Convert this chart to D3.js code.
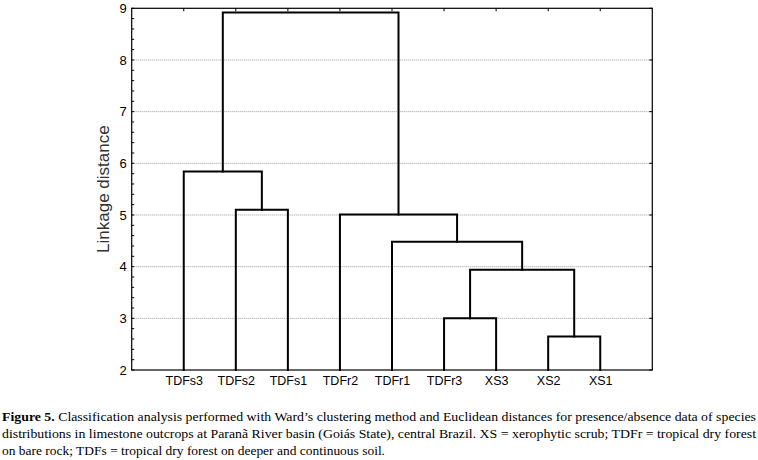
<!DOCTYPE html>
<html>
<head>
<meta charset="utf-8">
<script src="https://cdn.jsdelivr.net/npm/d3@7"></script>
<style>
  html, body { margin: 0; padding: 0; background: #fff; }
  svg { display: block; }
</style>
</head>
<body>
<svg id="chart" width="758" height="460"></svg>
<script>
// ---- data ----
const leaves = ["TDFs3", "TDFs2", "TDFs1", "TDFr2", "TDFr1", "TDFr3", "XS3", "XS2", "XS1"];
// merges produce nodes N1..N8 in order
const mergeA = ["TDFs2", "TDFr3", "XS2", "N2", "TDFr1", "TDFr2", "TDFs3", "N7"];
const mergeB = ["TDFs1", "XS3", "XS1", "N3", "N4", "N5", "N1", "N6"];
const mergeHeights = [5.10, 3.00, 2.65, 3.94, 4.48, 5.01, 5.84, 8.92];
const yTicks = [2, 3, 4, 5, 6, 7, 8, 9];
const yLabel = "Linkage distance";
const captionBold = "Figure 5.";
const captionLines = [
  " Classification analysis performed with Ward\u2019s clustering method and Euclidean distances for presence/absence data of species",
  "distributions in limestone outcrops at Paran\u00e3 River basin (Goi\u00e1s State), central Brazil. XS = xerophytic scrub; TDFr = tropical dry forest",
  "on bare rock; TDFs = tropical dry forest on deeper and continuous soil."
];

// ---- layout ----
const svg = d3.select("#chart");
const L = 131.7, R = 652.3, T = 8.3, B = 370;
const x = d3.scalePoint().domain(leaves).range([L, R]).padding(1);
const y = d3.scaleLinear().domain([2, 9]).range([B, T]);

// gridlines
svg.append("g").selectAll("line")
  .data(yTicks.filter(t => t > 2 && t < 9))
  .join("line")
  .attr("x1", L).attr("x2", R)
  .attr("y1", d => y(d)).attr("y2", d => y(d))
  .attr("stroke", "#9a9a9a").attr("stroke-width", 1)
  .attr("stroke-dasharray", "1,1");

// minor ticks on left axis (inward)
const minor = d3.range(2, 9.001, 0.2);
svg.append("g").selectAll("line")
  .data(minor)
  .join("line")
  .attr("x1", L).attr("x2", L + 2.5)
  .attr("y1", d => y(d)).attr("y2", d => y(d))
  .attr("stroke", "#000").attr("stroke-width", 1);

// right axis major ticks (inward)
svg.append("g").selectAll("line")
  .data(yTicks)
  .join("line")
  .attr("x1", R).attr("x2", R - 3)
  .attr("y1", d => y(d)).attr("y2", d => y(d))
  .attr("stroke", "#000").attr("stroke-width", 1);

// top ticks at leaf positions
svg.append("g").selectAll("line")
  .data(leaves)
  .join("line")
  .attr("x1", d => x(d)).attr("x2", d => x(d))
  .attr("y1", T).attr("y2", T + 3)
  .attr("stroke", "#000").attr("stroke-width", 1);

// left axis labels
const yAxis = d3.axisLeft(y).tickValues(yTicks).tickSize(0).tickPadding(5).tickFormat(d3.format("d"));
const gy = svg.append("g").attr("transform", `translate(${L},0)`).call(yAxis);
gy.select(".domain").remove();
gy.selectAll("text").attr("font-family", "Liberation Sans, Arial, sans-serif").attr("font-size", 13).attr("fill", "#000");

// bottom axis labels
const xAxis = d3.axisBottom(x).tickSize(0).tickPadding(6);
const gx = svg.append("g").attr("transform", `translate(0,${B})`).call(xAxis);
gx.select(".domain").remove();
gx.selectAll("text").attr("font-family", "Liberation Sans, Arial, sans-serif").attr("font-size", 12.5).attr("fill", "#000");

// frame
svg.append("rect")
  .attr("x", L).attr("y", T).attr("width", R - L).attr("height", B - T)
  .attr("fill", "none").attr("stroke", "#000").attr("stroke-width", 1.2);

// y label
svg.append("text")
  .attr("transform", `translate(109,${(T + B) / 2}) rotate(-90)`)
  .attr("text-anchor", "middle")
  .attr("font-family", "Liberation Sans, Arial, sans-serif")
  .attr("font-size", 17)
  .attr("fill", "#333")
  .text(yLabel);

// ---- dendrogram ----
const pos = {};
leaves.forEach(l => { pos[l] = { x: x(l), h: 2 }; });
const links = [];
mergeHeights.forEach((h, i) => {
  const a = pos[mergeA[i]], b = pos[mergeB[i]];
  links.push({ a, b, h });
  pos["N" + (i + 1)] = { x: (a.x + b.x) / 2, h };
});
const g = svg.append("g");
links.forEach(lk => {
  const path = d3.path();
  path.moveTo(lk.a.x, y(lk.a.h));
  path.lineTo(lk.a.x, y(lk.h));
  path.lineTo(lk.b.x, y(lk.h));
  path.lineTo(lk.b.x, y(lk.b.h));
  g.append("path").attr("d", path.toString())
    .attr("fill", "none").attr("stroke", "#000").attr("stroke-width", 2)
    .attr("stroke-linejoin", "miter").attr("stroke-linecap", "square");
});

// ---- caption ----
const cap = svg.append("g")
  .attr("font-family", "Liberation Serif, Times New Roman, serif")
  .attr("font-size", 13).attr("fill", "#000");
const lineY = [421, 438, 455];
const lineLen = [754, 754, 383];
captionLines.forEach((t, i) => {
  const tx = cap.append("text").attr("x", 2).attr("y", lineY[i])
    .attr("textLength", lineLen[i]).attr("lengthAdjust", "spacingAndGlyphs");
  if (i === 0) tx.append("tspan").attr("font-weight", "bold").text(captionBold);
  tx.append("tspan").text(t);
});
</script>
</body>
</html>
